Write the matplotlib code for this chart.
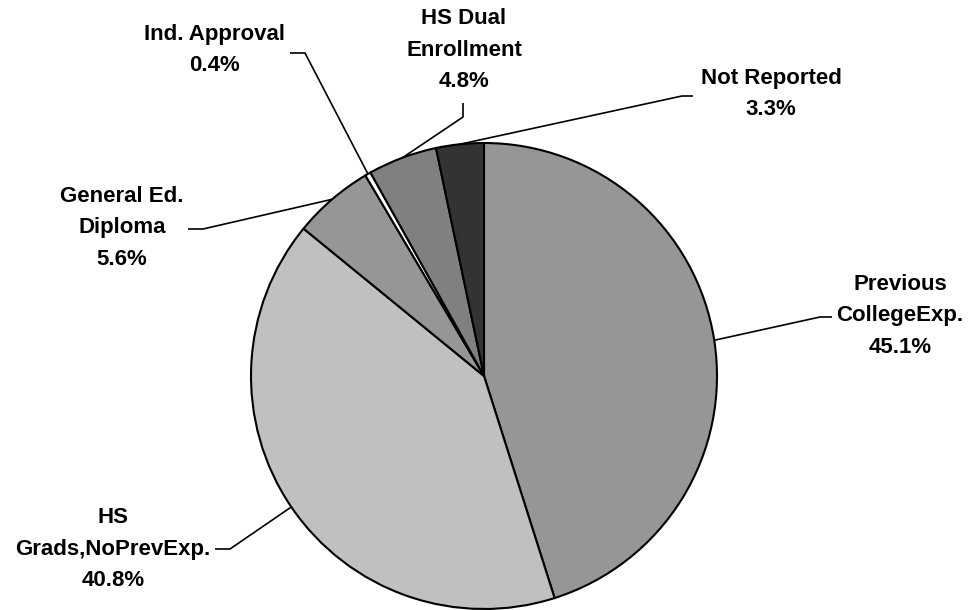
import numpy as np
import matplotlib
matplotlib.use("Agg")
import matplotlib.pyplot as plt

categories = ["Previous\nCollegeExp.", "HS\nGrads,NoPrevExp.", "General Ed.\nDiploma",
              "Ind. Approval", "HS Dual\nEnrollment", "Not Reported"]
values = [45.1, 40.8, 5.6, 0.4, 4.8, 3.3]
colors = ["#969696", "#C0C0C0", "#969696", "#FFFFFF", "#808080", "#333333"]

# layout (pixel coords, y measured from top)
W, H = 969, 610
center = (484, 376)
radius = 233
text_pos = [(900, 316), (113, 549), (122, 228), (215, 50), (464, 50), (771, 94)]
elbows = [[(820, 317), (832, 317)],
          [(230, 549), (215, 549)],
          [(203, 229), (188, 229)],
          [(305, 53), (290, 53)],
          [(463, 117), (463, 103)],
          [(682, 96), (693, 96)]]

fig = plt.figure(figsize=(W / 100, H / 100), dpi=100)
ax = fig.add_axes([0, 0, 1, 1])
ax.set_xlim(0, W)
ax.set_ylim(0, H)
ax.set_aspect("equal")
ax.axis("off")

cx, cy = center[0], H - center[1]
wedges, _ = ax.pie(values, colors=colors, startangle=90, counterclock=False,
                   center=(cx, cy), radius=radius, normalize=True,
                   wedgeprops=dict(edgecolor="black", linewidth=1.5))
ax.set_xlim(0, W)
ax.set_ylim(0, H)

font = dict(family=["Liberation Sans", "DejaVu Sans"], weight="bold", size=16)
for w, cat, val, tp, el in zip(wedges, categories, values, text_pos, elbows):
    mid = np.deg2rad((w.theta1 + w.theta2) / 2)
    ex = cx + radius * np.cos(mid)
    ey = cy + radius * np.sin(mid)
    xs = [ex] + [p[0] for p in el]
    ys = [ey] + [H - p[1] for p in el]
    ax.plot(xs, ys, color="black", lw=1.2, solid_capstyle="butt")
    ax.text(tp[0], H - tp[1], f"{cat}\n{val:.1f}%", ha="center", va="center",
            linespacing=1.65, **font)

fig.savefig("out.png", dpi=100)
